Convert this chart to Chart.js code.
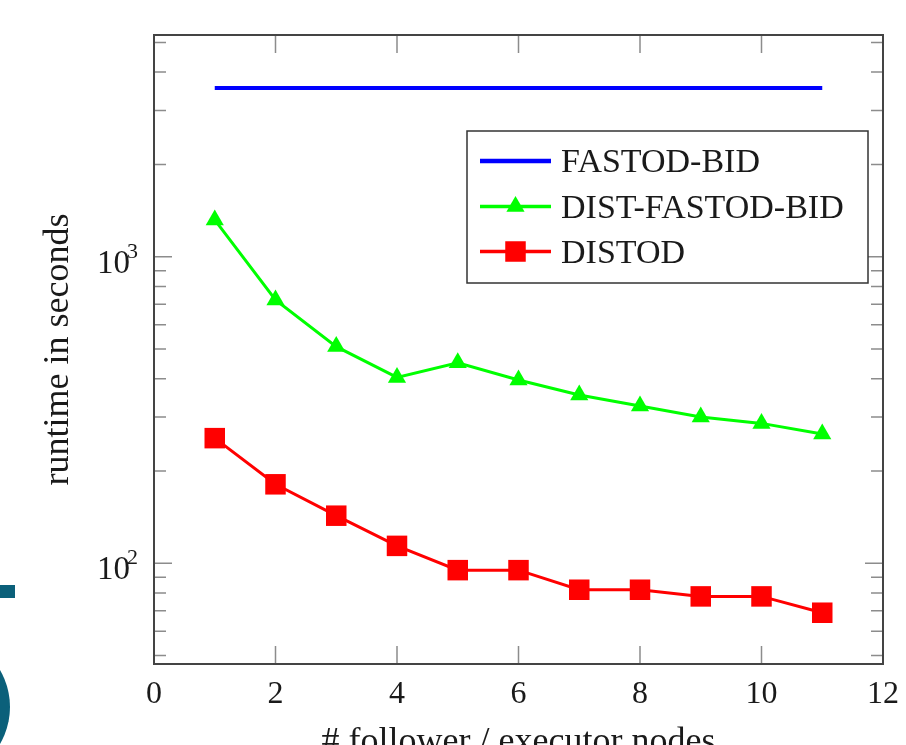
<!DOCTYPE html>
<html>
<head>
<meta charset="utf-8">
<title>runtime vs nodes</title>
<script src="https://cdn.jsdelivr.net/npm/chart.js@4.4.1/dist/chart.umd.min.js"></script>
<style>
  html, body { margin: 0; padding: 0; background: #fff; overflow: hidden; }
  #wrap { position: relative; width: 906px; height: 745px; }
  .deco { position: absolute; background: #0b607a; }
</style>
</head>
<body>
<div id="wrap">
  <canvas id="myChart" width="906" height="745"></canvas>
  <!-- restos de la diapositiva que se ven a la izquierda -->
  <div class="deco" style="left:0;top:585px;width:15px;height:13px"></div>
  <div class="deco" style="left:-136px;top:634px;width:146px;height:146px;border-radius:50%"></div>
</div>
<script>
// Datos
const nodes = [1, 2, 3, 4, 5, 6, 7, 8, 9, 10, 11];
const fastodBid = [3550, 3550, 3550, 3550, 3550, 3550, 3550, 3550, 3550, 3550, 3550];
const distFastodBid = [1318, 723, 509, 404, 451, 396, 354, 326, 300, 286, 264];
const distod = [256, 181, 143, 114, 95, 95, 82, 82, 78, 78, 69];

const seriesNames = ["FASTOD-BID", "DIST-FASTOD-BID", "DISTOD"];

// Marcas de los ejes
const xTicks = [0, 2, 4, 6, 8, 10, 12];
const yMajorTicks = [100, 1000];
const yMajorLabels = ["2", "3"]; // exponentes de 10
const yMinorTicks = [50, 60, 70, 80, 90, 200, 300, 400, 500, 600, 700, 800, 900, 2000, 3000, 4000, 5000];

const SERIF = "'Liberation Serif', 'DejaVu Serif', serif";
const TEXT = "#1a1a1a";

function toPoints(values) {
    return nodes.map((n, i) => ({ x: n, y: values[i] }));
}

// Marco, marcas hacia adentro, etiquetas del eje Y y leyenda
const framePlugin = {
    id: 'framePlugin',
    afterDraw(chart) {
        const { ctx, chartArea: a, scales } = chart;
        const xs = scales.x, ys = scales.y;
        ctx.save();

        // marcas
        ctx.strokeStyle = '#8c8c8c';
        ctx.lineWidth = 1.5;
        ctx.beginPath();
        xTicks.forEach(v => {
            const px = xs.getPixelForValue(v);
            if (px <= a.left + 1 || px >= a.right - 1) return;
            ctx.moveTo(px, a.bottom); ctx.lineTo(px, a.bottom - 18);
            ctx.moveTo(px, a.top); ctx.lineTo(px, a.top + 18);
        });
        yMajorTicks.forEach(v => {
            const py = ys.getPixelForValue(v);
            ctx.moveTo(a.left, py); ctx.lineTo(a.left + 18, py);
            ctx.moveTo(a.right, py); ctx.lineTo(a.right - 18, py);
        });
        yMinorTicks.forEach(v => {
            const py = ys.getPixelForValue(v);
            ctx.moveTo(a.left, py); ctx.lineTo(a.left + 12, py);
            ctx.moveTo(a.right, py); ctx.lineTo(a.right - 12, py);
        });
        ctx.stroke();

        // marco
        ctx.strokeStyle = '#444';
        ctx.lineWidth = 2;
        ctx.strokeRect(a.left, a.top, a.right - a.left, a.bottom - a.top);

        // etiquetas 10^n
        ctx.fillStyle = TEXT;
        yMajorTicks.forEach((v, i) => {
            const py = ys.getPixelForValue(v);
            ctx.textAlign = 'right';
            ctx.textBaseline = 'alphabetic';
            ctx.font = '22px ' + SERIF;
            ctx.fillText(yMajorLabels[i], a.left - 16, py + 1);
            ctx.font = '33px ' + SERIF;
            ctx.fillText('10', a.left - 24, py + 16);
        });

        // leyenda
        const box = { x: 467, y: 131, w: 401, h: 152 };
        ctx.fillStyle = '#fff';
        ctx.fillRect(box.x, box.y, box.w, box.h);
        ctx.strokeStyle = '#333';
        ctx.lineWidth = 1.5;
        ctx.strokeRect(box.x, box.y, box.w, box.h);
        const rows = [161, 206.5, 251.5];
        chart.data.datasets.forEach((ds, i) => {
            const ry = rows[i];
            ctx.strokeStyle = ds.borderColor;
            ctx.lineWidth = ds.borderWidth + 0.5;
            ctx.beginPath();
            ctx.moveTo(480, ry); ctx.lineTo(551, ry);
            ctx.stroke();
            if (ds.pointRadius > 0) {
                ctx.fillStyle = ds.pointBackgroundColor;
                Chart.helpers.drawPoint(ctx, {
                    pointStyle: ds.pointStyle, radius: ds.pointRadius, borderWidth: 0, rotation: 0
                }, 515.5, ry);
            }
            ctx.fillStyle = TEXT;
            ctx.font = '34px ' + SERIF;
            ctx.textAlign = 'left';
            ctx.textBaseline = 'alphabetic';
            ctx.fillText(ds.label, 561, ry + 11);
        });
        ctx.restore();
    }
};

const config = {
    type: 'line',
    data: {
        datasets: [
            {
                label: seriesNames[0],
                data: toPoints(fastodBid),
                borderColor: '#0000ff',
                borderWidth: 4,
                pointRadius: 0,
                pointStyle: 'circle',
                pointBackgroundColor: '#0000ff'
            },
            {
                label: seriesNames[1],
                data: toPoints(distFastodBid),
                borderColor: '#00ff00',
                borderWidth: 3,
                pointStyle: 'triangle',
                pointRadius: 10.5,
                pointBorderWidth: 0,
                pointBackgroundColor: '#00ff00'
            },
            {
                label: seriesNames[2],
                data: toPoints(distod),
                borderColor: '#ff0000',
                borderWidth: 3,
                pointStyle: 'rect',
                pointRadius: 14.5,
                pointBorderWidth: 0,
                pointBackgroundColor: '#ff0000'
            }
        ]
    },
    options: {
        responsive: false,
        animation: false,
        devicePixelRatio: 1,
        layout: { padding: { top: 35, right: 23, left: 0, bottom: 0 } },
        plugins: {
            legend: { display: false },
            tooltip: { enabled: false }
        },
        elements: { line: { tension: 0 } },
        scales: {
            x: {
                type: 'linear',
                min: 0,
                max: 12,
                grid: { display: false },
                border: { display: false },
                ticks: {
                    stepSize: 2,
                    color: TEXT,
                    padding: 3,
                    font: { family: SERIF, size: 32 }
                },
                title: {
                    display: true,
                    text: '# follower / executor nodes',
                    color: TEXT,
                    font: { family: SERIF, size: 36 },
                    padding: { top: 0, bottom: -19 }
                },
                afterFit(scale) { scale.height = 81; }
            },
            y: {
                type: 'logarithmic',
                min: 46.95,
                max: 5285,
                grid: { display: false },
                border: { display: false },
                ticks: { display: false },
                title: {
                    display: true,
                    text: 'runtime in seconds',
                    color: TEXT,
                    font: { family: SERIF, size: 36 },
                    padding: { top: 37, bottom: 0 }
                },
                afterFit(scale) { scale.width = 154; }
            }
        }
    },
    plugins: [framePlugin]
};

// Crear el gráfico
const ctx = document.getElementById('myChart').getContext('2d');
const myChart = new Chart(ctx, config);
</script>
</body>
</html>
